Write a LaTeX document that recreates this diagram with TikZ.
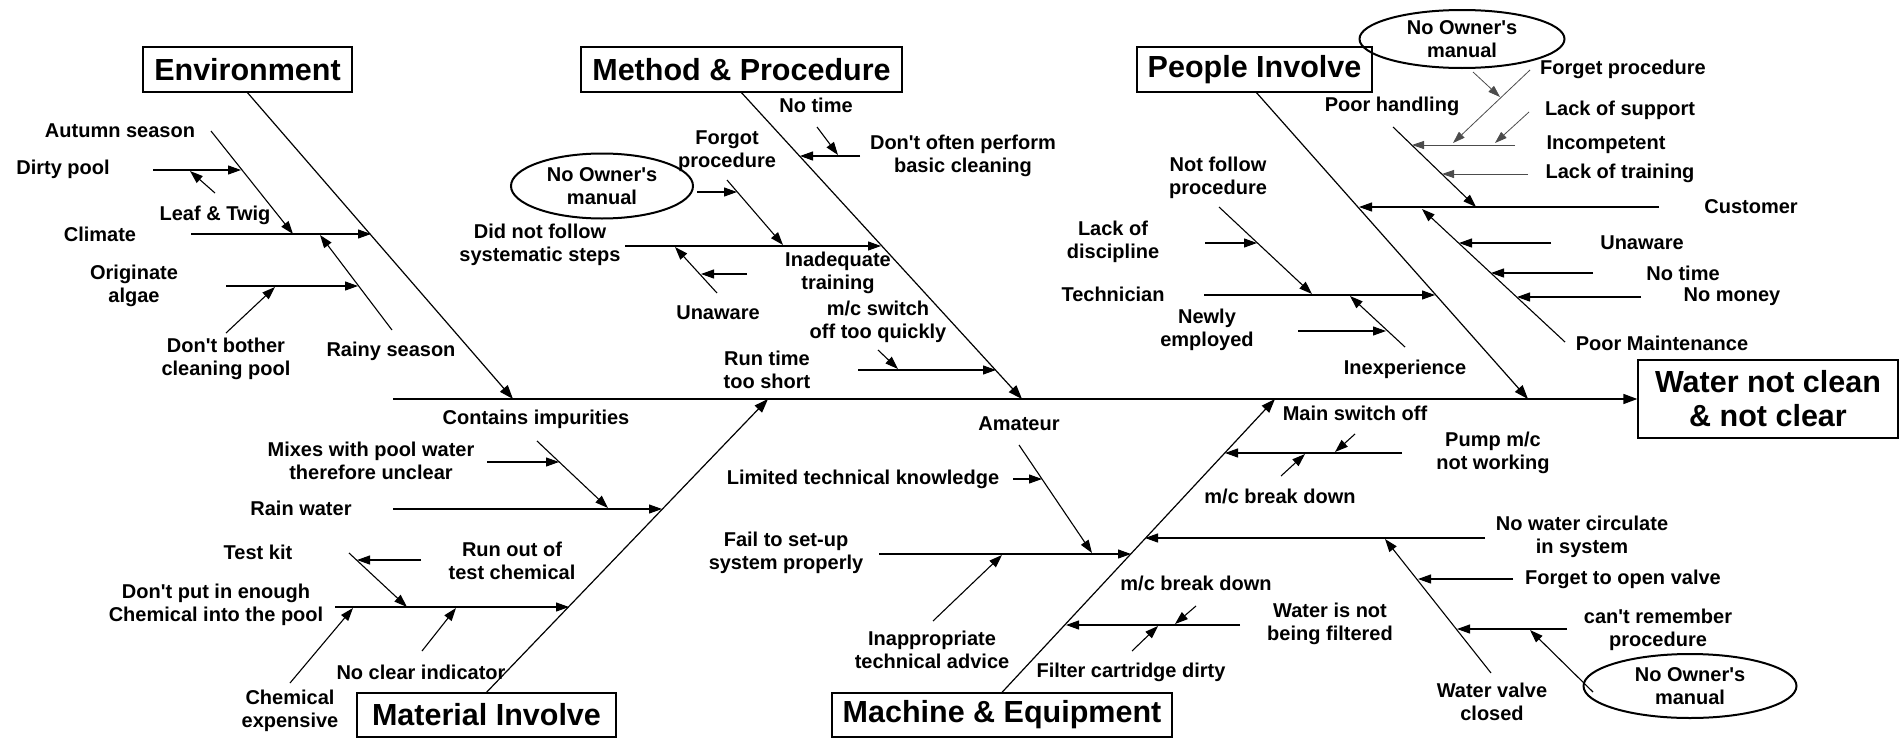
\documentclass[tikz,border=0pt]{standalone}
\usepackage{fontspec}
\setmainfont{Liberation Sans}[Ligatures=TeXOff]
\usetikzlibrary{arrows.meta,shapes.geometric}
\begin{document}
\begin{tikzpicture}[x=1pt,y=-1pt,
  lbl/.style={font=\fontsize{20}{23}\selectfont\bfseries, align=center, inner sep=0pt},
  cat/.style={draw, line width=1.3pt, font=\fontsize{30.5}{34}\selectfont\bfseries, inner sep=0pt, minimum height=45},
  own/.style={draw, ellipse, line width=2pt, inner sep=0pt, font=\fontsize{20}{23}\selectfont\bfseries, align=center},
  spine/.style={line width=1.5pt, -{Triangle[length=14pt,width=10pt]}},
  bone/.style={line width=1.2pt, -{Triangle[length=14pt,width=10pt]}},
  twig/.style={line width=1.1pt, -{Triangle[length=13pt,width=9pt]}},
  faint/.style={line width=0.8pt, black!70, -{Triangle[length=12pt,width=8pt]}}]
\useasboundingbox (0,0) rectangle (1903,739);

% ---------- effect and category boxes ----------
\node[draw, line width=1.3pt, minimum width=260, minimum height=78, inner sep=0pt,
      font=\fontsize{30.5}{34}\selectfont\bfseries, align=center] (eff) at (1768,399)
      {Water not clean\\\& not clear};
\node[cat, minimum width=209] (env)  at (247.5,69.5) {Environment};
\node[cat, minimum width=321] (meth) at (741.5,69.5) {Method \& Procedure};
\node[cat, minimum width=235] (ppl)  at (1254.5,69.5) {People Involve};
\node[cat, minimum width=259, minimum height=44] (mat)  at (486.5,715) {Material Involve};
\node[cat, minimum width=340, minimum height=44] (mach) at (1002,715) {Machine \& Equipment};

% ---------- spine and main bones ----------
\coordinate (spS) at (393,399);
\coordinate (envT) at (513,399);
\coordinate (methT) at (1022,399);
\coordinate (pplT) at (1528,399);
\coordinate (matT) at (768,399);
\coordinate (machT) at (1275,399);
\draw[spine] (spS) -- (eff.west);
\draw[bone] (env.south) -- (envT);
\draw[bone] (meth.south) -- (methT);
\draw[bone] ([xshift=2pt]ppl.south) -- (pplT);
\draw[bone] (mat.north) -- (matT);
\draw[bone] (mach.north) -- (machT);

% ---------- Environment ----------
\node[lbl] (lAut) at (120,131) {Autumn season};
\node[lbl] (lDir) at (63,169) {Dirty pool};
\node[lbl] (lLea) at (215,215) {Leaf \& Twig};
\node[lbl] (lCli) at (100,234) {Climate};
\node[lbl] (lOri) at (134,286) {Originate\\algae};
\node[lbl] (lRai) at (391,351) {Rainy season};
\node[lbl] (lDon) at (226,359) {Don't bother\\cleaning pool};
\coordinate (au0) at (211,131); \coordinate (au1) at (293,234);
\coordinate (dp0) at (153,170); \coordinate (dp1) at (241,170);
\coordinate (lf0) at (215,193); \coordinate (lf1) at (190,171);
\coordinate (cl0) at (191,234); \coordinate (cl1) at (371,234);
\coordinate (or0) at (226,286); \coordinate (or1) at (358,286);
\coordinate (rn0) at (392,330); \coordinate (rn1) at (320,235);
\coordinate (db0) at (226,333); \coordinate (db1) at (275,287);
\draw[twig] (cl0) -- (cl1);
\draw[twig] (or0) -- (or1);
\draw[twig] (au0) -- (au1);
\draw[twig] (dp0) -- (dp1);
\draw[twig] (lf0) -- (lf1);
\draw[twig] (rn0) -- (rn1);
\draw[twig] (db0) -- (db1);

% ---------- Method & Procedure ----------
\node[lbl] (lNt)  at (816,105) {No time};
\node[lbl] (lDo)  at (963,156) {Don't often perform\\basic cleaning};
\node[lbl] (lFg)  at (727,151) {Forgot\\procedure};
\node[own, minimum width=182, minimum height=65] (own1) at (602,186) {No Owner's\\manual};
\node[lbl] (lDn)  at (540,245) {Did not follow\\systematic steps};
\node[lbl] (lUn)  at (718,313) {Unaware};
\node[lbl] (lIn)  at (838,273) {Inadequate\\training};
\node[lbl] (lMs)  at (878,322) {m/c switch\\off too quickly};
\node[lbl] (lRt)  at (767,370) {Run time\\too short};
\coordinate (nt0) at (817,127); \coordinate (nt1) at (838,155);
\coordinate (df0) at (860,156); \coordinate (df1) at (800,156);
\coordinate (fg0) at (727,180); \coordinate (fg1) at (783,245);
\coordinate (o1a) at (697,192); \coordinate (o1b) at (737,192);
\coordinate (dn0) at (625,246); \coordinate (dn1) at (881,246);
\coordinate (un0) at (717,293); \coordinate (un1) at (675,247);
\coordinate (ua0) at (747,274); \coordinate (ua1) at (701,274);
\coordinate (ms0) at (878,350); \coordinate (ms1) at (898,369);
\coordinate (rt0) at (858,370); \coordinate (rt1) at (996,370);
\draw[twig] (df0) -- (df1);
\draw[twig] (nt0) -- (nt1);
\draw[twig] (dn0) -- (dn1);
\draw[twig] (fg0) -- (fg1);
\draw[twig] (o1a) -- (o1b);
\draw[twig] (un0) -- (un1);
\draw[twig] (ua0) -- (ua1);
\draw[twig] (rt0) -- (rt1);
\draw[twig] (ms0) -- (ms1);

% ---------- People Involve ----------
\node[lbl] (lNf) at (1218,178) {Not follow\\procedure};
\node[lbl] (lLd) at (1113,242) {Lack of\\discipline};
\node[lbl] (lTc) at (1113,294) {Technician};
\node[lbl] (lNe) at (1207,330) {Newly\\employed};
\node[lbl] (lIx) at (1405,369) {Inexperience};
\node[lbl] (lPh) at (1392,106) {Poor handling};
\node[lbl] (lCu) at (1751,207) {Customer};
\node[lbl] (lPm) at (1662,343) {Poor Maintenance};
\node[lbl] (lUw) at (1642,243) {Unaware};
\node[lbl] (lNt2) at (1683,273) {No time};
\node[lbl] (lNm) at (1732,297) {No money};
\node[lbl] (lIc) at (1606,145) {Incompetent};
\node[lbl] (lLt) at (1620,173) {Lack of training};
\node[lbl] (lFp) at (1623,69) {Forget procedure};
\node[lbl] (lLs) at (1620,110) {Lack of support};
\node[own, minimum width=205, minimum height=58] (own2) at (1462,39) {No Owner's\\manual};
\coordinate (nf0) at (1219,207); \coordinate (nf1) at (1312,294);
\coordinate (ld0) at (1205,243); \coordinate (ld1) at (1257,243);
\coordinate (tc0) at (1204,295); \coordinate (tc1) at (1435,295);
\coordinate (ne0) at (1298,331); \coordinate (ne1) at (1386,331);
\coordinate (ix0) at (1405,347); \coordinate (ix1) at (1350,296);
\coordinate (ph0) at (1393,127); \coordinate (ph1) at (1476,207);
\coordinate (cu0) at (1659,207); \coordinate (cu1) at (1359,207);
\coordinate (pm0) at (1565,342); \coordinate (pm1) at (1422,209);
\coordinate (uw0) at (1551,243); \coordinate (uw1) at (1459,243);
\coordinate (tm0) at (1593,273); \coordinate (tm1) at (1491,273);
\coordinate (nm0) at (1641,297); \coordinate (nm1) at (1517,297);
\coordinate (ic0) at (1515,145); \coordinate (ic1) at (1412,145);
\coordinate (lt0) at (1528,174); \coordinate (lt1) at (1442,174);
\coordinate (fp0) at (1530,70);  \coordinate (fp1) at (1453,143);
\coordinate (ls0) at (1529,112); \coordinate (ls1) at (1495,143);
\coordinate (o2a) at (1473,72);  \coordinate (o2b) at (1500,97);
\draw[twig] (tc0) -- (tc1);
\draw[twig] (nf0) -- (nf1);
\draw[twig] (ld0) -- (ld1);
\draw[twig] (ix0) -- (ix1);
\draw[twig] (ne0) -- (ne1);
\draw[twig] (cu0) -- (cu1);
\draw[twig] (ph0) -- (ph1);
\draw[twig] (pm0) -- (pm1);
\draw[twig] (uw0) -- (uw1);
\draw[twig] (tm0) -- (tm1);
\draw[twig] (nm0) -- (nm1);
\draw[faint] (ic0) -- (ic1);
\draw[faint] (lt0) -- (lt1);
\draw[faint] (fp0) -- (fp1);
\draw[faint] (ls0) -- (ls1);
\draw[faint] (o2a) -- (o2b);

% ---------- Material Involve ----------
\node[lbl] (lCi) at (536,419) {Contains impurities};
\node[lbl] (lMx) at (371,461) {Mixes with pool water\\therefore unclear};
\node[lbl] (lRw) at (301,508) {Rain water};
\node[lbl] (lTk) at (258,552) {Test kit};
\node[lbl] (lRo) at (512,561) {Run out of\\test chemical};
\node[lbl] (lDp) at (216,605) {Don't put in enough\\Chemical into the pool};
\node[lbl] (lCe) at (290,711) {Chemical\\expensive};
\node[lbl] (lNc) at (421,672) {No clear indicator};
\coordinate (ci0) at (537,441); \coordinate (ci1) at (608,508);
\coordinate (mx0) at (487,462); \coordinate (mx1) at (559,462);
\coordinate (rw0) at (393,509); \coordinate (rw1) at (662,509);
\coordinate (tk0) at (349,553); \coordinate (tk1) at (407,607);
\coordinate (ro0) at (421,560); \coordinate (ro1) at (357,560);
\coordinate (dq0) at (335,607); \coordinate (dq1) at (569,607);
\coordinate (ce0) at (290,683); \coordinate (ce1) at (353,608);
\coordinate (nc0) at (422,651); \coordinate (nc1) at (456,608);
\draw[twig] (rw0) -- (rw1);
\draw[twig] (ci0) -- (ci1);
\draw[twig] (mx0) -- (mx1);
\draw[twig] (dq0) -- (dq1);
\draw[twig] (tk0) -- (tk1);
\draw[twig] (ro0) -- (ro1);
\draw[twig] (ce0) -- (ce1);
\draw[twig] (nc0) -- (nc1);

% ---------- Machine & Equipment ----------
\node[lbl] (lAm) at (1019,424) {Amateur};
\node[lbl] (lLk) at (863,479) {Limited technical knowledge};
\node[lbl] (lFs) at (786,553) {Fail to set-up\\system properly};
\node[lbl] (lIa) at (932,650) {Inappropriate\\technical advice};
\node[lbl] (lMo) at (1355,413) {Main switch off};
\node[lbl] (lPu) at (1493,453) {Pump m/c\\not working};
\node[lbl] (lMb) at (1280,496) {m/c break down};
\node[lbl] (lNw) at (1582,537) {No water circulate\\in system};
\node[lbl] (lWv) at (1492,702) {Water valve\\closed};
\node[lbl] (lFo) at (1623,579) {Forget to open valve};
\node[lbl] (lCr) at (1658,630) {can't remember\\procedure};
\node[own, minimum width=213, minimum height=64] (own3) at (1690,686) {No Owner's\\manual};
\node[lbl] (lMb2) at (1196,583) {m/c break down};
\node[lbl] (lWf) at (1330,624) {Water is not\\being filtered};
\node[lbl] (lFc) at (1131,672) {Filter cartridge dirty};
\coordinate (am0) at (1019,445); \coordinate (am1) at (1092,553);
\coordinate (lk0) at (1013,479); \coordinate (lk1) at (1042,479);
\coordinate (fs0) at (879,554);  \coordinate (fs1) at (1131,554);
\coordinate (ia0) at (933,621);  \coordinate (ia1) at (1002,555);
\coordinate (pu0) at (1402,453); \coordinate (pu1) at (1225,453);
\coordinate (mo0) at (1355,434); \coordinate (mo1) at (1335,452);
\coordinate (mb0) at (1281,476); \coordinate (mb1) at (1305,454);
\coordinate (nw0) at (1485,538); \coordinate (nw1) at (1145,538);
\coordinate (wv0) at (1491,673); \coordinate (wv1) at (1385,539);
\coordinate (fo0) at (1513,579); \coordinate (fo1) at (1418,579);
\coordinate (cr0) at (1567,629); \coordinate (cr1) at (1457,629);
\coordinate (o3a) at (1593,692); \coordinate (o3b) at (1530,630);
\coordinate (wf0) at (1240,625); \coordinate (wf1) at (1066,625);
\coordinate (mc0) at (1196,606); \coordinate (mc1) at (1175,624);
\coordinate (fc0) at (1132,651); \coordinate (fc1) at (1158,626);
\draw[twig] (fs0) -- (fs1);
\draw[twig] (am0) -- (am1);
\draw[twig] (lk0) -- (lk1);
\draw[twig] (ia0) -- (ia1);
\draw[twig] (pu0) -- (pu1);
\draw[twig] (mo0) -- (mo1);
\draw[twig] (mb0) -- (mb1);
\draw[twig] (nw0) -- (nw1);
\draw[twig] (wv0) -- (wv1);
\draw[twig] (fo0) -- (fo1);
\draw[twig] (cr0) -- (cr1);
\draw[twig] (o3a) -- (o3b);
\draw[twig] (wf0) -- (wf1);
\draw[twig] (mc0) -- (mc1);
\draw[twig] (fc0) -- (fc1);
\end{tikzpicture}
\end{document}
